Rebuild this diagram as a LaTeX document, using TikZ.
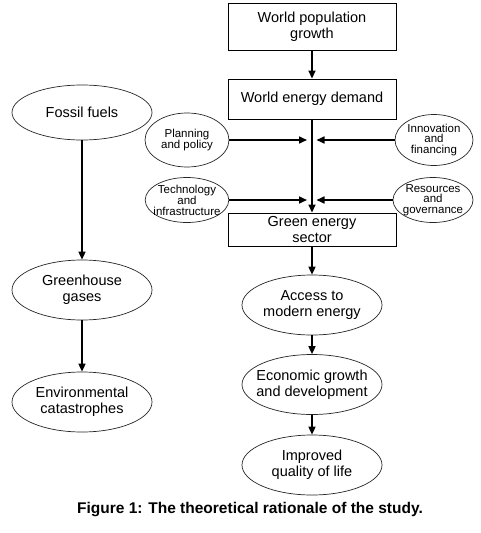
\documentclass[tikz,border=0pt]{standalone}
\usepackage{fontspec}
\setmainfont{Liberation Sans}
\usetikzlibrary{shapes.geometric,arrows.meta}
\begin{document}
\begin{tikzpicture}[x=1pt,y=-1pt,
 box/.style={draw,line width=0.9pt,minimum width=168pt,inner sep=0pt,align=center,font=\fontsize{14.5}{16}\selectfont},
 ell/.style={draw=black!85,ellipse,line width=0.7pt,inner ysep=0pt,inner xsep=-7pt,align=center,minimum width=140pt,minimum height=60pt,font=\fontsize{14.5}{16}\selectfont},
 sell/.style={draw=black!85,ellipse,line width=0.7pt,inner ysep=0pt,inner xsep=-4pt,align=center,font=\fontsize{11.5}{10.5}\selectfont},
 arr/.style={line width=1.6pt,-{Triangle[length=8pt,width=7pt]}},
 ln/.style={line width=1.6pt}]
\useasboundingbox (0,0) rectangle (481,533);
% right column
\node[box,minimum height=47pt] (pop) at (312,26.5) {World population\\growth};
\node[box,minimum height=40pt] (demand) at (312,99) {World energy demand};
\node[box,minimum height=33pt] (green) at (312,229.5) {Green energy\\sector};
\node[ell] (access) at (312,305) {Access to\\modern energy};
\node[ell] (econ) at (312,384.5) {Economic growth\\and development};
\node[ell] (qual) at (312,465) {Improved\\quality of life};
% influence ellipses
\node[sell,minimum width=84pt,minimum height=54pt] (plan) at (187,140) {Planning\\and policy};
\node[sell,minimum width=78pt,minimum height=51pt] (innov) at (434,140) {Innovation\\and\\financing};
\node[sell,minimum width=81pt,minimum height=45pt] (tech) at (187,200) {Technology\\and\\infrastructure};
\node[sell,minimum width=80pt,minimum height=45pt] (res) at (433,200) {Resources\\and\\governance};
\coordinate (pl) at (307,140);
\coordinate (pr) at (316.5,140);
\coordinate (tl) at (307,200);
\coordinate (tr) at (316.5,200);
% left column
\node[ell,minimum height=55pt] (fossil) at (82,112.5) {Fossil fuels};
\node[ell] (ghg) at (82,290) {Greenhouse\\gases};
\node[ell] (env) at (82,402) {Environmental\\catastrophes};
% connectors
\draw[arr] (pop) -- (demand);
\draw[arr] (demand) -- (green);
\draw[arr] (plan.east) -- (pl);
\draw[arr] (innov.west) -- (pr);
\draw[arr] (tech.east) -- (tl);
\draw[arr] (res.west) -- (tr);
\draw[arr] (green) -- (access);
\draw[arr] (access) -- (econ);
\draw[arr] (econ) -- (qual);
\draw[arr] (fossil) -- (ghg);
\draw[arr] (ghg) -- (env);
% caption
\node[font=\bfseries\fontsize{15.5}{18}\selectfont] (cap) at (250,510) {Figure 1: The theoretical rationale of the study.};
\end{tikzpicture}
\end{document}
